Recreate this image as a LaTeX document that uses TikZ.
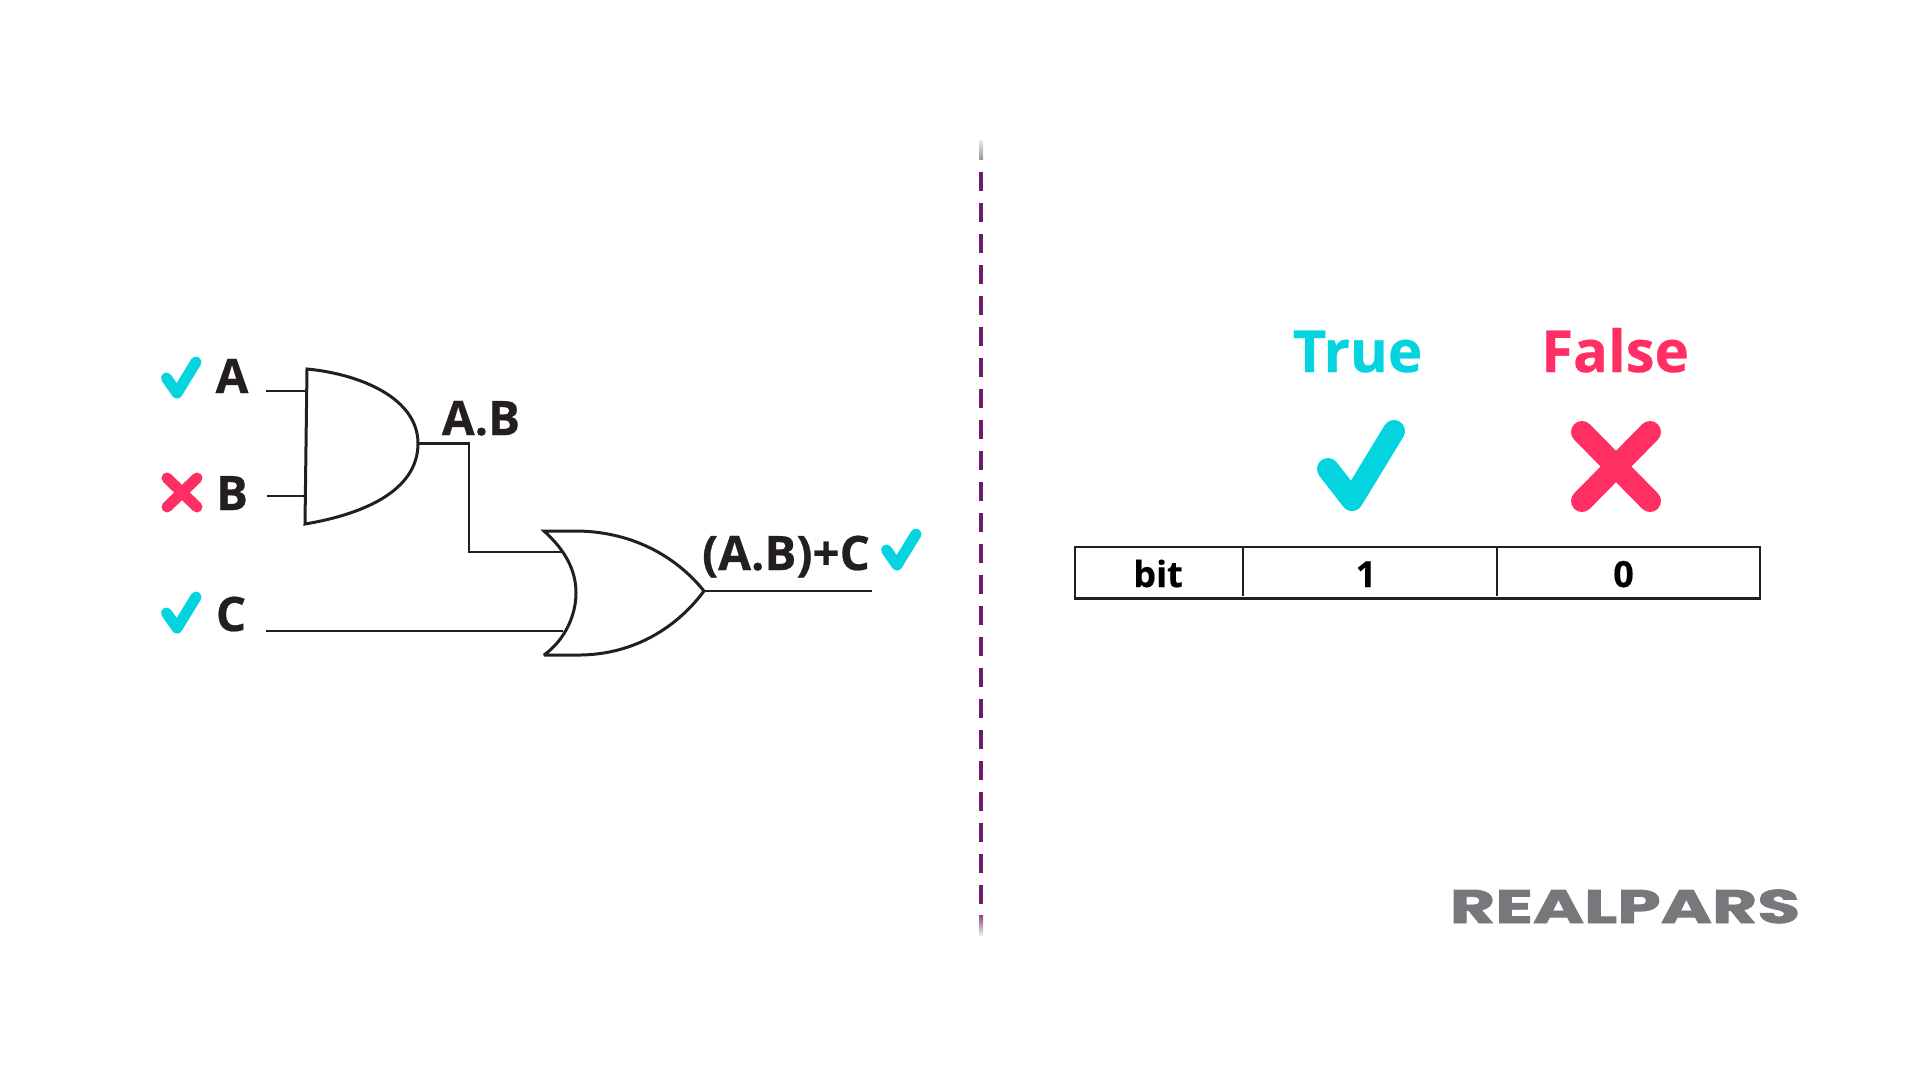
\documentclass[tikz,border=0pt]{standalone}
\usepackage{fontspec}
\setmainfont{Open Sans}[BoldFeatures={FakeBold=0.5}]
\newfontfamily\logofont{Poppins}[BoldFeatures={FakeBold=1.5}]
\definecolor{ink}{HTML}{231F20}
\definecolor{okcolor}{HTML}{04D3E0}
\definecolor{nocolor}{HTML}{FF2E63}
\definecolor{divcolor}{HTML}{701A6B}
\definecolor{logocolor}{HTML}{77787B}
\tikzset{
  wire/.style={draw = ink, line width = 2.8pt},
  gate/.style={draw = ink, line width = 3pt, line join = miter, miter limit = 3},
  cell/.style={draw = ink, line width = 2.6pt},
  lbl/.style={font = \bfseries\fontsize{47.5}{50}\selectfont, text = ink, inner sep = 0pt, anchor = base},
  bitlbl/.style={font = \bfseries\fontsize{36}{40}\selectfont, text = black, inner sep = 0pt, anchor = base},
  headlbl/.style={font = \bfseries\fontsize{58}{60}\selectfont, inner sep = 0pt, anchor = base},
  okmark/.style={draw = okcolor, line width = 11pt, line cap = round, line join = round},
  nomark/.style={draw = nocolor, line width = 11pt, line cap = round},
  bigok/.style={okmark, line width = 22pt},
  bigno/.style={nomark, line width = 22pt}
}
\begin{document}
\begin{tikzpicture}[x = 1pt, y = -1pt]
\useasboundingbox (0,0) rectangle (1920,1080);
\draw[draw = divcolor, line width = 4pt, dash pattern = on 19pt off 12pt] (981,172) -- (981,935);
\shade[top color = gray!15, bottom color = gray!80] (979,140) rectangle (983,159);
\shade[top color = divcolor!80, middle color = gray!70, bottom color = gray!15] (979,915) rectangle (983,935);
\coordinate (inA) at (266,391);
\coordinate (inB) at (267,496);
\coordinate (inC) at (266,631);
\coordinate (andA) at (306,391);
\coordinate (andB) at (305,496);
\coordinate (andOut) at (418,443.5);
\coordinate (orA) at (562,552);
\coordinate (orC) at (563,631);
\coordinate (orOut) at (704,591);
\coordinate (outEnd) at (872,591);
\draw[wire] (inA) -- (andA);
\draw[wire] (inB) -- (andB);
\draw[wire] (inC) -- (orC);
\draw[wire] (andOut) -| (469,552) -- (orA);
\draw[wire] (orOut) -- (outEnd);
\draw[gate] (307,369) .. controls (360,374) and (418,398) .. (andOut) .. controls (418,490) and (365,514) .. (305,524) -- cycle;
\draw[gate] (544,531) -- (575,531) .. controls (630,531) and (675,555) .. (orOut) .. controls (675,630) and (630,656) .. (575,655) -- (544,655) .. controls (565,640) and (576,615) .. (576,593) .. controls (576,570) and (565,550) .. (544,531) -- cycle;
\node[lbl] (labelA) at (232,393) {A};
\node[lbl] (labelB) at (232,510) {B};
\node[lbl] (labelC) at (231,631) {C};
\node[lbl] (labelAB) at (481,435) {A.B};
\node[lbl] (labelOut) at (786,570) {(A.B)+C};
\foreach \dx/\dy in {0/0,0/235,720/172} \draw[okmark, shift = {(\dx,\dy)}] (166.5,378) -- (177,393) -- (196,362);
\draw[nomark] (167,478) -- (197,507);
\draw[nomark] (197,478) -- (167,507);
\node[headlbl, text = okcolor] (labelTrue) at (1357.5,372) {True};
\node[headlbl, text = nocolor] (labelFalse) at (1615,372) {False};
\draw[bigok] (1328,469) -- (1352,500) -- (1394,431);
\draw[bigno] (1582,432) -- (1650,501);
\draw[bigno] (1650,432) -- (1582,501);
\draw[cell] (1075,547) rectangle (1760,598.5);
\foreach \x in {1243,1497} \draw[cell] (\x,547) -- (\x,596);
\node[bitlbl] (labelBit) at (1158,587) {bit};
\node[bitlbl] (labelOne) at (1366,587) {1};
\node[bitlbl] (labelZero) at (1623.5,587) {0};
\node[inner sep = 0pt, anchor = base, text = logocolor] (logo) at (1625,923) {\scalebox{1.48}[1]{\logofont\bfseries\fontsize{47}{50}\selectfont REALPARS}};
\end{tikzpicture}
\end{document}
